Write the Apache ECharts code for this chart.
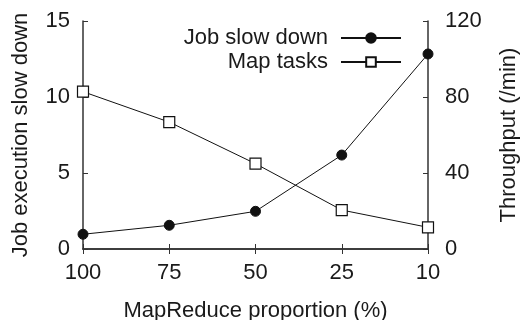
<!DOCTYPE html>
<html><head><meta charset="utf-8">
<script src="https://cdn.jsdelivr.net/npm/echarts@6/dist/echarts.min.js"></script>
<style>html,body{margin:0;padding:0;background:#fff}#c{width:522px;height:320px}</style>
</head><body><div id="c"></div>
<script>
var categories = ['100', '75', '50', '25', '10'];
var jobSlowDown = [0.97, 1.56, 2.48, 6.18, 12.83];
var mapTasks = [82.8, 66.8, 44.9, 20.5, 11.4];
var leftTicks = [0, 5, 10, 15];
var rightTicks = [0, 40, 80, 120];

var FONT = 'Liberation Sans';
var FS = 22;
var TXT = '#1a1a1a';
var AX = '#333';
var chart = echarts.init(document.getElementById('c'), null, {renderer: 'canvas'});
var axisLine = {show: true, lineStyle: {color: AX, width: 1.5}};
chart.setOption({
  animation: false,
  textStyle: {fontFamily: FONT},
  grid: {left: 83, right: 94, top: 21, bottom: 71, containLabel: false, outerBoundsMode: 'none'},
  legend: {
    orient: 'vertical', right: 115, top: 22, align: 'right', itemGap: 2,
    itemWidth: 60, itemHeight: 12,
    textStyle: {fontFamily: FONT, fontSize: FS, color: TXT, padding: [0, 8, 0, 0]},
    data: ['Job slow down', 'Map tasks']
  },
  xAxis: [{
    type: 'category', data: categories, boundaryGap: false, position: 'bottom',
    name: 'MapReduce proportion (%)', nameLocation: 'middle', nameGap: 51,
    nameTextStyle: {fontFamily: FONT, fontSize: FS, color: TXT},
    axisLine: axisLine,
    axisTick: {show: true, inside: true, length: 5, alignWithLabel: true, lineStyle: {color: AX, width: 1}},
    axisLabel: {fontFamily: FONT, fontSize: FS, color: TXT, margin: 13},
    splitLine: {show: false}
  }, {
    type: 'category', data: categories, boundaryGap: false, position: 'top',
    axisLine: axisLine,
    axisTick: {show: true, inside: true, length: 5, lineStyle: {color: AX, width: 1}},
    axisLabel: {show: false}, splitLine: {show: false}
  }],
  yAxis: [{
    type: 'value', min: leftTicks[0], max: leftTicks[leftTicks.length - 1], interval: 5, position: 'left',
    name: 'Job execution slow down', nameLocation: 'middle', nameGap: 51, nameRotate: 90,
    nameTextStyle: {fontFamily: FONT, fontSize: FS, color: TXT},
    axisLine: axisLine,
    axisTick: {show: true, inside: true, length: 5, lineStyle: {color: AX, width: 1}},
    axisLabel: {fontFamily: FONT, fontSize: FS, color: TXT, margin: 13},
    splitLine: {show: false}
  }, {
    type: 'value', min: rightTicks[0], max: rightTicks[rightTicks.length - 1], interval: 40, position: 'right',
    name: 'Throughput (/min)', nameLocation: 'middle', nameGap: 70, nameRotate: 90,
    nameTextStyle: {fontFamily: FONT, fontSize: FS, color: TXT},
    axisLine: axisLine,
    axisTick: {show: true, inside: true, length: 5, lineStyle: {color: AX, width: 1}},
    axisLabel: {fontFamily: FONT, fontSize: FS, color: TXT, margin: 17},
    splitLine: {show: false}
  }],
  series: [{
    name: 'Job slow down', type: 'line', xAxisIndex: 0, yAxisIndex: 0, data: jobSlowDown,
    symbol: 'circle', symbolSize: 10,
    lineStyle: {color: '#111', width: 1},
    itemStyle: {color: '#111', borderColor: '#111', borderWidth: 1}
  }, {
    name: 'Map tasks', type: 'line', xAxisIndex: 0, yAxisIndex: 1, data: mapTasks,
    symbol: 'rect', symbolSize: 11,
    lineStyle: {color: '#111', width: 1},
    itemStyle: {color: '#fff', borderColor: '#111', borderWidth: 1.2}
  }]
});
</script></body></html>
